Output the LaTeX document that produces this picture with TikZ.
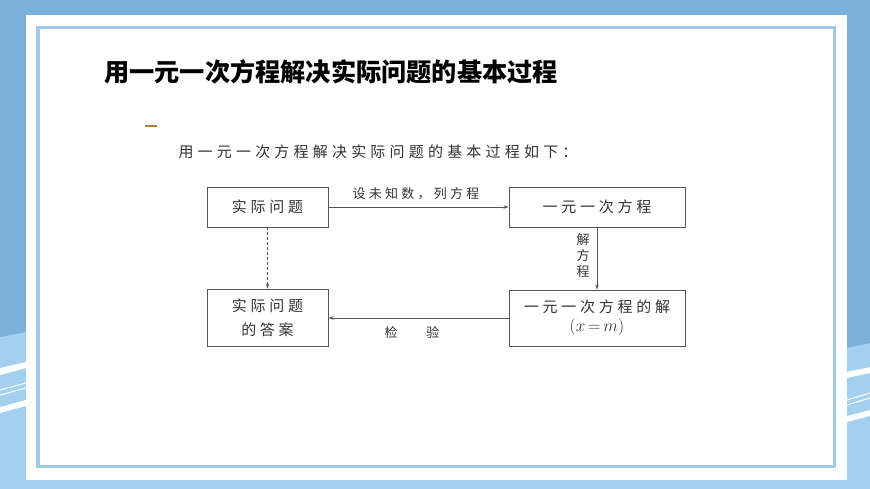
\documentclass[tikz,border=0pt]{standalone}
\usepackage{fontspec}
\usetikzlibrary{arrows.meta}
\newfontfamily\cjk{Noto Sans CJK SC}
\newfontfamily\cjks[LetterSpace=25]{Noto Sans CJK SC}
\newfontfamily\cjkl[LetterSpace=28]{Noto Sans CJK SC}
\definecolor{bgdark}{HTML}{7AB0DA}
\definecolor{bglight}{HTML}{A4D0F0}
\definecolor{bordercol}{HTML}{9CCAE8}
\definecolor{txt}{HTML}{333333}
\definecolor{ln}{HTML}{555555}
\definecolor{orng}{HTML}{B07A45}
\tikzset{
  pbox/.style={draw=ln, line width=0.9bp, inner sep=0pt, text=txt, align=center,
    font=\cjks\fontsize{15bp}{24bp}\selectfont},
  lbl/.style={text=txt, inner sep=0pt, font=\cjks\fontsize{13bp}{16bp}\selectfont},
  arr/.style={draw=ln, line width=0.8bp, -{Stealth[length=5bp,width=3.5bp]}},
}
\begin{document}
\begin{tikzpicture}[x=1bp,y=-1bp]
\useasboundingbox (0,0) rectangle (870,489);
% background
\fill[bglight] (0,0) rectangle (870,489);
\fill[bgdark] (0,0) -- (870,0) -- (870,343) -- (847,348) -- (847,100) -- (26,100) -- (26,332) -- (0,337) -- cycle;
% left stripes
\fill[white] (0,368) -- (26,362) -- (26,368) -- (0,375) -- cycle;
\draw[white, line width=1bp] (0,390) -- (26,383);
\draw[white, line width=1bp] (0,395) -- (26,388);
\fill[white] (0,407) -- (26,400) -- (26,406) -- (0,413) -- cycle;
% right stripes
\fill[white] (847,372) -- (870,367) -- (870,373) -- (847,378) -- cycle;
\draw[white, line width=1bp] (847,400) -- (870,393);
\draw[white, line width=1bp] (847,405) -- (870,398);
\fill[white] (847,416) -- (870,410) -- (870,416) -- (847,422) -- cycle;
% panel
\fill[white] (26,15) rectangle (847,480);
\draw[bordercol, line width=3.5bp] (38,27.5) rectangle (834.5,466.5);
% title
\node[inner sep=0pt, font=\cjk\bfseries\fontsize{25.2bp}{30bp}\selectfont] (title) at (331,72) {用一元一次方程解决实际问题的基本过程};
% small orange mark
\draw[orng, line width=1.1bp] (145,126) -- (157,126);
% subtitle
\node[inner sep=0pt, text=txt, font=\cjkl\fontsize{15bp}{18bp}\selectfont] (sub) at (378,152) {用一元一次方程解决实际问题的基本过程如下：};
% boxes
\node[pbox, minimum width=121bp, minimum height=40bp] (q) at (267.5,207) {实际问题};
\node[pbox, minimum width=121bp, minimum height=57bp] (a) at (267.5,317.5) {实际问题\\的答案};
\node[pbox, minimum width=176bp, minimum height=56bp, font=\cjks\fontsize{15bp}{19bp}\selectfont] (s) at (597,318) {一元一次方程的解\\{\fontsize{17bp}{19bp}\selectfont$(x\,{=}\,m)$}};
\node[pbox, minimum width=176bp, minimum height=40bp] (e) at (597,207) {一元一次方程};
% connectors
\draw[arr] (q) -- (e);
\draw[arr] (e) -- (s);
\draw[arr] (s.west) -- (s.west -| a.east);
\draw[arr, dashed, dash pattern=on 3bp off 2bp] (q) -- (a);
% labels
\node[lbl] (l1) at (416,194) {设未知数，列方程};
\node[lbl, align=center, font=\cjk\fontsize{13bp}{16bp}\selectfont] (l2) at (583,256) {解\\方\\程};
\node[lbl, font=\cjk\fontsize{13bp}{16bp}\selectfont] (l3) at (412,333) {检\hspace{29bp}验};
\end{tikzpicture}
\end{document}
